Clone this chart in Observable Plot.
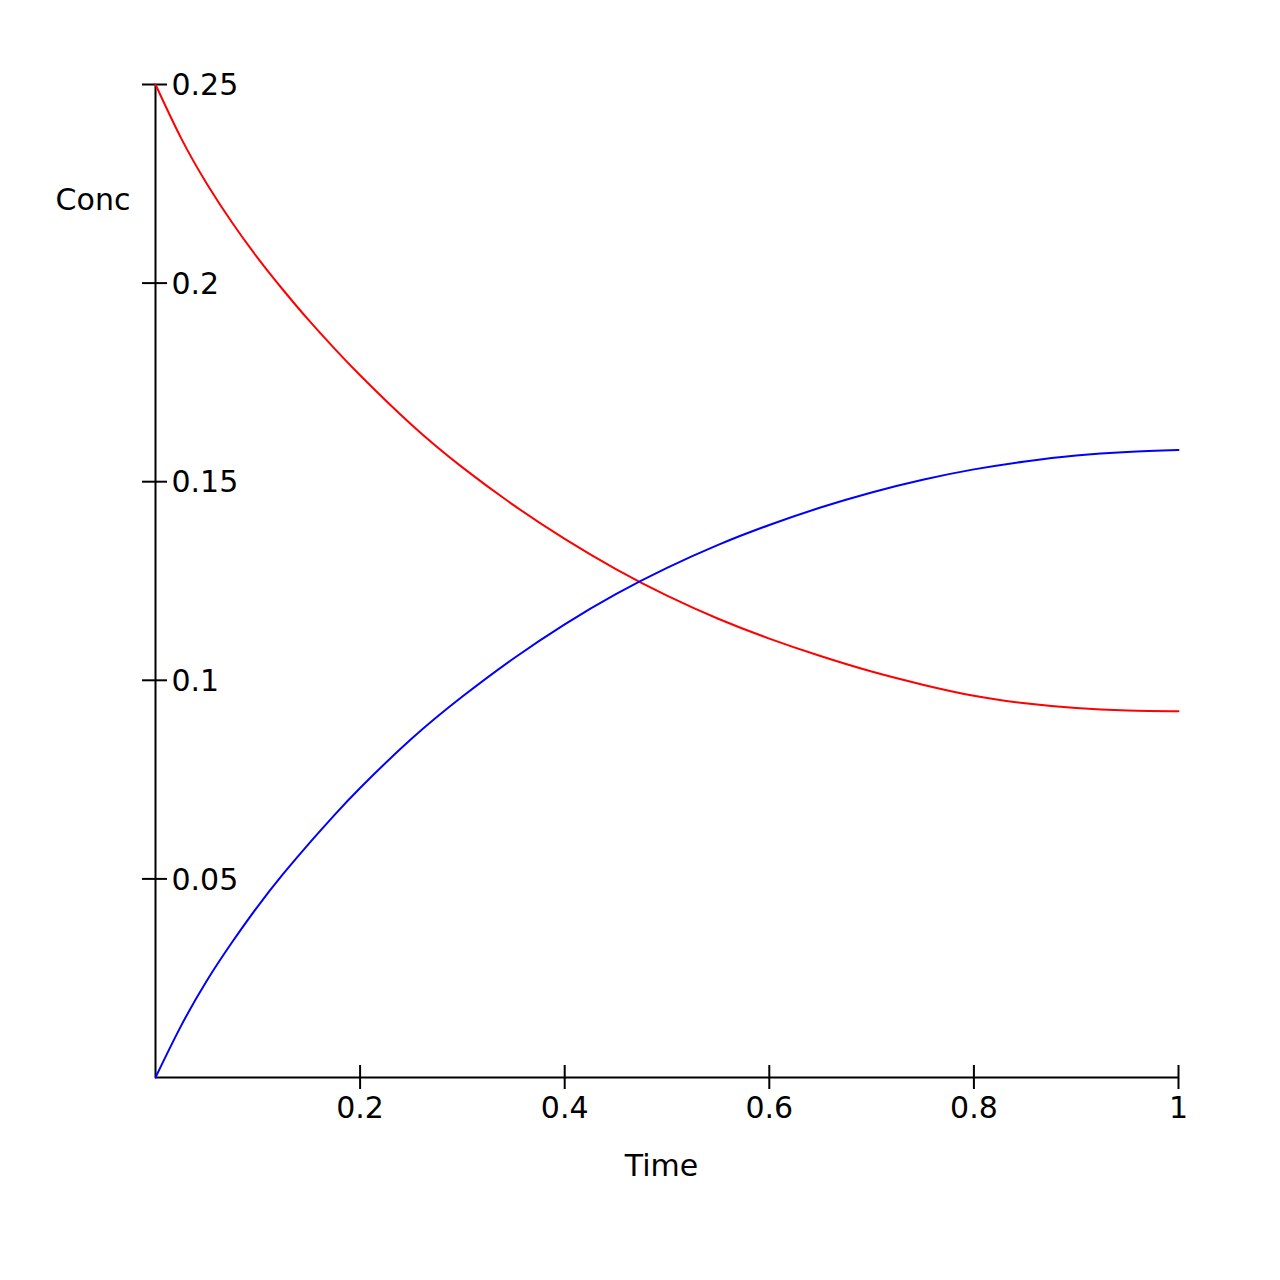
<!DOCTYPE html>
<html>
<head>
<meta charset="utf-8">
<script src="https://cdn.jsdelivr.net/npm/d3@7"></script>
<script src="https://cdn.jsdelivr.net/npm/@observablehq/plot@0.6"></script>
<style>
  html, body { margin: 0; padding: 0; background: #ffffff; }
  #chart svg { display: block; }
</style>
</head>
<body>
<div id="chart"></div>
<script>
// Time points (x)
const time = [0, 0.025, 0.05, 0.075, 0.1, 0.125, 0.15, 0.175, 0.2, 0.25, 0.3, 0.35, 0.4,
              0.45, 0.5, 0.55, 0.6, 0.65, 0.7, 0.75, 0.8, 0.85, 0.9, 0.95, 1];
// Red series (decaying)
const concRed = [0.2500, 0.2365, 0.2251, 0.2152, 0.2063, 0.1982, 0.1906, 0.1835, 0.1768, 0.1644,
                 0.1536, 0.1441, 0.1356, 0.1280, 0.1213, 0.1155, 0.1105, 0.1061, 0.1022, 0.0989,
                 0.0961, 0.0942, 0.0930, 0.0924, 0.0922];
// Blue series (rising)
const concBlue = [0.0000, 0.0130, 0.0243, 0.0341, 0.0431, 0.0513, 0.0589, 0.0661, 0.0729, 0.0852,
                  0.0959, 0.1055, 0.1141, 0.1217, 0.1283, 0.1341, 0.1391, 0.1435, 0.1473, 0.1505,
                  0.1531, 0.1551, 0.1566, 0.1575, 0.1580];
const seriesColors = ["#ff0000", "#0000ff"];
const xTicks = [0.2, 0.4, 0.6, 0.8, 1];
const yTicks = [0.05, 0.1, 0.15, 0.2, 0.25];
const xLabel = "Time";
const yLabel = "Conc";

const redRows = time.map((t, i) => ({t, c: concRed[i]}));
const blueRows = time.map((t, i) => ({t, c: concBlue[i]}));

const FS = 30;
const fmt = d => String(d);

const chart = Plot.plot({
  width: 1280,
  height: 1280,
  marginLeft: 155,
  marginRight: 102,
  marginTop: 84,
  marginBottom: 203,
  style: { fontFamily: "DejaVu Sans", fontSize: FS + "px", background: "#ffffff", color: "#000000" },
  x: { domain: [0, 1], axis: null },
  y: { domain: [0, 0.25], axis: null },
  marks: [
    // axis lines
    Plot.ruleX([0], { stroke: "#000", strokeWidth: 2 }),
    Plot.ruleY([0], { stroke: "#000", strokeWidth: 2 }),
    // y ticks crossing the axis
    Plot.axisY(yTicks, { anchor: "left", tickSize: 25, dx: 12, fill: "none", stroke: "#000", strokeWidth: 2, label: null }),
    // y tick labels to the right of the axis
    Plot.axisY(yTicks, { anchor: "left", tickSize: 0, tickPadding: 0, dx: 16, dy: 1, textAnchor: "start", stroke: "none", fill: "#000", tickFormat: fmt, fontSize: FS, label: null }),
    // x ticks crossing the axis
    Plot.axisX(xTicks, { anchor: "bottom", tickSize: 24, dy: -12, fill: "none", stroke: "#000", strokeWidth: 2, label: null }),
    // x tick labels
    Plot.axisX(xTicks, { anchor: "bottom", tickSize: 0, tickPadding: 19, stroke: "none", fill: "#000", tickFormat: fmt, fontSize: FS, label: null }),
    // axis titles
    Plot.text([yLabel], { frameAnchor: "top-left", dx: -62.5, dy: 104, textAnchor: "middle", fontSize: FS, fill: "#000" }),
    Plot.text([xLabel], { frameAnchor: "bottom", dx: -5.5, dy: 98, textAnchor: "middle", fontSize: FS, fill: "#000" }),
    // curves
    Plot.line(redRows, { x: "t", y: "c", stroke: seriesColors[0], strokeWidth: 2, curve: "natural" }),
    Plot.line(blueRows, { x: "t", y: "c", stroke: seriesColors[1], strokeWidth: 2, curve: "natural" })
  ]
});

document.getElementById("chart").appendChild(chart);
</script>
</body>
</html>
